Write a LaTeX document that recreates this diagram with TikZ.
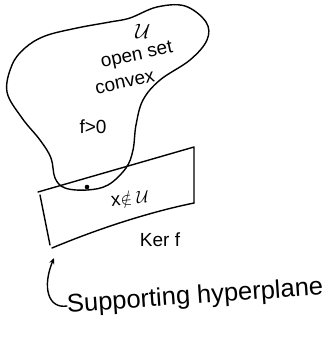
\documentclass[tikz,border=0pt]{standalone}
\usepackage{fontspec}
\setmainfont{Liberation Sans}
\usetikzlibrary{arrows.meta}
\begin{document}
\begin{tikzpicture}[x=1pt,y=-1pt,
  pen/.style={line width=1.4pt,line cap=round,line join=round},
  lbl/.style={inner sep=0pt,font=\fontsize{19}{21}\selectfont}]
\useasboundingbox (0,0) rectangle (328,343);
% convex open set U
\draw[pen] plot[smooth cycle,tension=0.6] coordinates{
 (157,7) (185,6) (206,22) (207,40) (190,60) (160,80) (143,100) (136,125)
 (133,150) (126,168) (108,185) (87,190) (65,188) (55,178) (51,158) (40,140)
 (22,118) (7,92) (12,65) (25,48) (45,36) (77,28) (110,22) (130,18)};
% supporting hyperplane box
\coordinate (tl) at (38,192);
\coordinate (tr) at (194,147);
\coordinate (br) at (194,203);
\coordinate (bl) at (52,248);
\coordinate (lt) at (40,195);
\coordinate (lb) at (50,245);
\draw[pen] (tl) -- (tr) -- (br);
\draw[pen] (br) .. controls (150,212) and (100,228) .. (bl);
\draw[pen] (lt) -- (lb);
% point x
\fill (87,187) circle (2.3pt);
% labels
\node[lbl,font=\fontsize{22}{24}\selectfont] (U) at (143,31) {$\mathcal{U}$};
\node[lbl,rotate=12] (open) at (137,56) {open set};
\node[lbl,rotate=12] (convex) at (125,83) {convex};
\node[lbl] (fpos) at (93,127) {f>0};
\node[lbl,rotate=6] (xnotin) at (130,198) {x$\notin\mathcal{U}$};
\node[lbl] (ker) at (160,240) {Ker f};
\node[lbl,font=\fontsize{25.5}{27}\selectfont,rotate=4,anchor=west] (sh) at (67,306) {Supporting hyperplane};
\coordinate (tip) at (54,258);
\draw[pen,-{Stealth[length=6pt,width=5pt]}] (sh.west) .. controls (48,309) and (42,287) .. (tip);
\end{tikzpicture}
\end{document}
